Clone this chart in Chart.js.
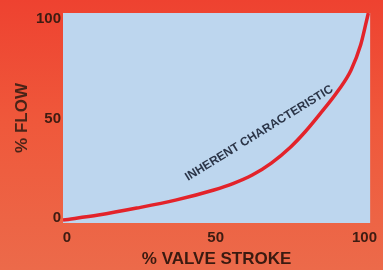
<!DOCTYPE html>
<html>
<head>
<meta charset="utf-8">
<script src="https://cdn.jsdelivr.net/npm/chart.js@4/dist/chart.umd.min.js"></script>
<style>
  html, body { margin: 0; padding: 0; }
  body {
    width: 383px; height: 270px; overflow: hidden;
    background: linear-gradient(180deg, #ee4230 0%, #ef583b 45%, #ec6a4a 100%);
  }
  #wrap { position: relative; width: 383px; height: 270px; }
</style>
</head>
<body>
<div id="wrap"><canvas id="myChart" width="383" height="270"></canvas></div>
<script>
// % valve stroke vs % flow
stroke = [-1.3, 10.6, 23.5, 36.5, 49.4, 55.8, 62.3, 68.7, 75.2, 80.0, 84.8, 91.3, 95.5, 98.7, 100.6, 101.3]
flow = [-1.0, 1.5, 5.0, 9.0, 14.1, 17.3, 21.6, 27.6, 35.7, 43.2, 51.8, 64.3, 74.4, 86.9, 98.5, 103]

xTicks = [0, 50, 100]
yTicks = [0, 50, 100]

curveLabel = 'INHERENT CHARACTERISTIC'
labelAt = {x: 64.6, y: 42.6}

points = []
for (i = 0; i < stroke.length; i++)
{
    points.push({x: stroke[i], y: flow[i]})
}

const plotBg = {
    id: 'plotBg',
    beforeDatasetsDraw(chart) {
        const a = chart.chartArea
        const c = chart.ctx
        c.save()
        c.fillStyle = '#bdd6ee'
        c.fillRect(a.left, a.top, a.right - a.left, a.bottom - a.top)
        c.restore()
    }
}

const curveText = {
    id: 'curveText',
    afterDatasetsDraw(chart) {
        const c = chart.ctx
        const px = chart.scales.x.getPixelForValue(labelAt.x)
        const py = chart.scales.y.getPixelForValue(labelAt.y)
        c.save()
        c.translate(px, py)
        c.rotate(-31.7 * Math.PI / 180)
        c.font = 'bold 12px "Liberation Sans"'
        c.fillStyle = '#2b3548'
        c.textAlign = 'center'
        c.textBaseline = 'middle'
        c.fillText(curveLabel, 0, 0)
        c.restore()
    }
}

const ctx = document.getElementById('myChart').getContext('2d')
const myChart = new Chart(ctx, {
    type: 'line',
    data: {
        datasets: [{
            data: points,
            borderColor: '#e3232a',
            borderWidth: 3.5,
            pointRadius: 0,
            fill: false,
            cubicInterpolationMode: 'monotone'
        }]
    },
    options: {
        responsive: false,
        animation: false,
        events: [],
        layout: { padding: { top: 13, right: 0, left: 0, bottom: 0 } },
        plugins: { legend: { display: false }, tooltip: { enabled: false } },
        scales: {
            x: {
                type: 'linear',
                min: -1.3,
                max: 101.9,
                afterBuildTicks: s => { s.ticks = xTicks.map(v => ({value: v})) },
                afterFit: s => { s.height = 47 },
                grid: { display: false, drawTicks: false },
                border: { display: false },
                ticks: {
                    padding: 6,
                    color: '#3d1c12',
                    font: { family: 'Liberation Sans', size: 15, weight: 'bold' },
                    maxRotation: 0
                },
                title: {
                    display: true,
                    text: '% VALVE STROKE',
                    color: '#3a1a10',
                    padding: { top: 0, bottom: 0 },
                    font: { family: 'Liberation Sans', size: 17, weight: 'bold' }
                }
            },
            y: {
                min: -2.5,
                max: 103,
                afterBuildTicks: s => { s.ticks = yTicks.map(v => ({value: v})) },
                afterFit: s => { s.width = 63 },
                grid: { display: false, drawTicks: false },
                border: { display: false },
                ticks: {
                    padding: 2,
                    color: '#3d1c12',
                    font: { family: 'Liberation Sans', size: 15, weight: 'bold' }
                },
                title: {
                    display: true,
                    text: '% FLOW',
                    color: '#4a2418',
                    padding: { top: 12, bottom: 0 },
                    font: { family: 'Liberation Sans', size: 17, weight: 'bold' }
                }
            }
        }
    },
    plugins: [plotBg, curveText]
})
</script>
</body>
</html>
